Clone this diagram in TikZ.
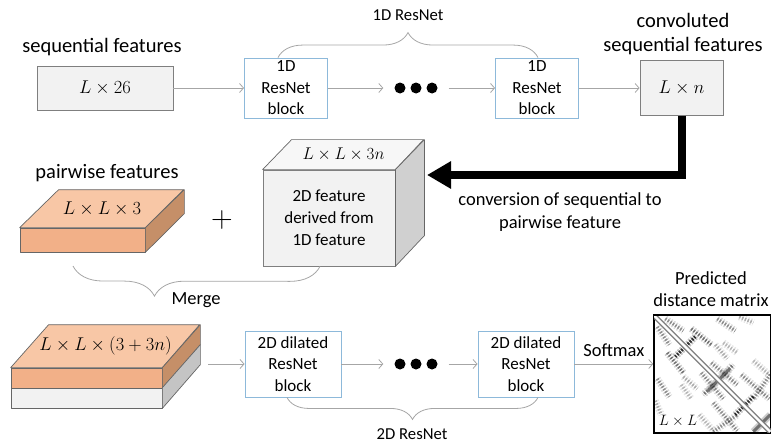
\documentclass[tikz,border=0pt]{standalone}
\usepackage{fix-cm}
\usepackage{fontspec}
\setmainfont{Carlito}
\usetikzlibrary{arrows.meta,positioning,calc,decorations.pathreplacing}

\definecolor{boxgray}{HTML}{F2F2F2}
\definecolor{edgegray}{HTML}{7F7F7F}
\definecolor{linegray}{HTML}{A6A6A6}
\definecolor{blockblue}{HTML}{8DB9DA}
\definecolor{orangetop}{HTML}{F8C7A6}
\definecolor{orangefront}{HTML}{F2B088}
\definecolor{orangeside}{HTML}{C58F68}
\definecolor{cubetop}{HTML}{F7F7F7}
\definecolor{cubeside}{HTML}{D0D0D0}
\definecolor{slabside}{HTML}{C4C4C4}

\begin{document}
\begin{tikzpicture}[
    x=1pt, y=-1pt,
    font=\fontsize{18.5}{22}\selectfont,
    lbl/.style={align=center, font=\fontsize{18.5}{23}\selectfont},
    biglbl/.style={align=center, font=\fontsize{20.5}{24}\selectfont},
    smalllbl/.style={align=center, font=\fontsize{16.7}{20}\selectfont},
    featbox/.style={draw=edgegray, fill=boxgray, line width=0.8pt, inner sep=0pt},
    resblock/.style={draw=blockblue, fill=white, line width=0.9pt, inner sep=1pt, align=center, font=\fontsize{17}{21.5}\selectfont},
    face/.style={draw=edgegray!80!black, line width=0.7pt, line join=round, inner sep=0pt},
    flow/.style={-{Straight Barb[length=4pt,width=9pt]}, draw=linegray, line width=0.8pt},
    bigflow/.style={-{Triangle[length=24pt,width=26pt]}, line width=8pt},
    grpbrace/.style={decorate, draw=linegray, line width=0.8pt}
]
\useasboundingbox (0,0) rectangle (771,444);

% sequential branch
\node[biglbl] (seqlbl) at (102,47) {sequential features};
\node[featbox, minimum width=136, minimum height=44] (seq) at (105,88) {$L\times 26$};
\node[resblock, minimum width=83, minimum height=60] (rb1) at (286,88) {1D\\ResNet\\block};
\node[minimum width=65, inner sep=0pt] (dots1) at (416,88) {};
\node[resblock, minimum width=83, minimum height=60] (rb2) at (537,88) {1D\\ResNet\\block};
\node[featbox, minimum width=83, minimum height=55] (conv) at (681.5,88) {$L\times n$};
\node[biglbl] (convlbl) at (683,34) {convoluted\\sequential features};
\foreach \dx in {-16,0,16}
  \fill ([xshift=\dx pt]dots1.center) circle (5.5);

\draw[flow] (seq) -- (rb1);
\draw[flow] (rb1) -- (dots1);
\draw[flow] (dots1) -- (rb2);
\draw[flow] (rb2) -- (conv);

\draw[grpbrace, decoration={brace, amplitude=25pt}] ([xshift=-8pt]rb1.north) -- ([xshift=1pt]rb2.north);
\node[smalllbl] (res1lbl) at (408,15) {1D ResNet};

% conversion to pairwise
\coordinate (cubein) at (427,175);
\draw[bigflow] (conv.south) |- (cubein);
\node[lbl] (convtxt) at (560,212) {conversion of sequential to\\pairwise feature};

\node[featbox, minimum width=132, minimum height=96, align=center, font=\fontsize{17}{22}\selectfont] (cube) at (329,218) {2D feature\\derived from\\1D feature};
\filldraw[face, fill=cubetop] (cube.north west) -- ++(29,-30) -- ++(132,0) -- (cube.north east) -- cycle;
\filldraw[face, fill=cubeside] (cube.north east) -- ++(29,-30) -- ++(0,96) -- (cube.south east) -- cycle;
\node[font=\fontsize{17}{20}\selectfont] (cubetxt) at ($(cube.north)+(14.5,-15)$) {$L\times L\times 3n$};

% pairwise features
\node[biglbl] (pwlbl) at (107,173) {pairwise features};
\node[face, fill=orangefront, minimum width=125, minimum height=24] (pw) at (82.5,240) {};
\filldraw[face, fill=orangetop] (pw.north west) -- ++(39,-38) -- ++(125,0) -- (pw.north east) -- cycle;
\filldraw[face, fill=orangeside] (pw.north east) -- ++(39,-38) -- ++(0,24) -- (pw.south east) -- cycle;
\node (pwtxt) at ($(pw.north)+(19.5,-19)$) {$L\times L\times 3$};

\node[font=\fontsize{30}{30}\selectfont] (plus) at (222,220) {$+$};

\coordinate (mgR) at ([xshift=-9pt]cube.south);
\coordinate (mgL) at (73,266);
\draw[grpbrace, decoration={brace, amplitude=30pt, aspect=0.67}] (mgR) -- (mgL);
\node[lbl] (mergelbl) at (196,300) {Merge};

% merged features and 2D ResNet
\node[face, fill=orangefront, minimum width=151, minimum height=20] (mo) at (86.5,378) {};
\node[face, fill=boxgray, minimum width=151, minimum height=20] (mg) at (86.5,398) {};
\filldraw[face, fill=orangetop] (mo.north west) -- ++(38,-43) -- ++(151,0) -- (mo.north east) -- cycle;
\filldraw[face, fill=orangeside] (mo.north east) -- ++(38,-43) -- ++(0,20) -- (mo.south east) -- cycle;
\filldraw[face, fill=slabside] (mg.north east) -- ++(38,-43) -- ++(0,20) -- (mg.south east) -- cycle;
\node (motxt) at ($(mo.north)+(19,-21.5)$) {$L\times L\times(3+3n)$};

\coordinate (slabout) at (208,364);
\node[resblock, minimum width=96, minimum height=66] (dr1) at (293,364) {2D dilated\\ResNet\\block};
\node[minimum width=65, inner sep=0pt] (dots2) at (416,364) {};
\node[resblock, minimum width=96, minimum height=66] (dr2) at (526,364) {2D dilated\\ResNet\\block};
\foreach \dx in {-16,0,16}
  \fill ([xshift=\dx pt]dots2.center) circle (5.5);

\node[draw=black, line width=1.5pt, fill=white, minimum size=117, inner sep=0pt] (dmat) at (712.5,374) {};
\node[lbl, font=\fontsize{18.5}{22}\selectfont] (predlbl) at (711,289) {Predicted\\distance matrix};

\draw[flow] (slabout) -- (dr1);
\draw[flow] (dr1) -- (dots2);
\draw[flow] (dots2) -- (dr2);
\draw[flow] (dr2.east) -- node[lbl, above=4pt] (smlbl) {Softmax} (dr2.east -| dmat.west);

\draw[grpbrace, decoration={brace, amplitude=22pt}] ([xshift=12pt]dr2.south) -- ([xshift=-6pt]dr1.south);
\node[smalllbl] (res2lbl) at (412,434) {2D ResNet};

% predicted map
\begin{scope}
  \clip (dmat.north west) rectangle (dmat.south east);
  \begin{scope}[shift={(dmat.north west)}]
    \foreach \xa/\ya/\xb/\yb/\oa/\ob in {12/4/30/16/0.15/0.35, 38/14/58/30/0.2/0.45,
        64/4/82/16/0.15/0.35, 86/2/100/8/0.1/0.25, 58/48/84/70/0.15/0.35,
        88/60/116/84/0.15/0.35, 100/46/116/60/0.1/0.2, 70/28/84/38/0.1/0.2,
        24/40/42/22/0.25/0.75, 55/76/80/50/0.2/0.45, 82/100/100/82/0.25/0.75,
        100/117/117/100/0.2/0.45, 117/60/100/84/0.15/0.35, 30/62/44/74/0.1/0.25}
    {
      \draw[line width=7pt, dash pattern=on 1.5pt off 1.5pt, opacity=\oa] (\xa,\ya) -- (\xb,\yb) (\ya,\xa) -- (\yb,\xb);
      \draw[line width=3pt, dash pattern=on 1.5pt off 1.5pt, opacity=\ob] (\xa,\ya) -- (\xb,\yb) (\ya,\xa) -- (\yb,\xb);
    }
    \draw[gray, line width=5pt] (0,0) -- (117,117);
    \draw[white, line width=2.4pt] (0,0) -- (117,117);
  \end{scope}
\end{scope}
\draw[line width=1.5pt] (dmat.north west) rectangle (dmat.south east);
\node[font=\fontsize{15}{18}\selectfont] (dmatlbl) at (678,421) {$L\times L$};
\end{tikzpicture}
\end{document}
